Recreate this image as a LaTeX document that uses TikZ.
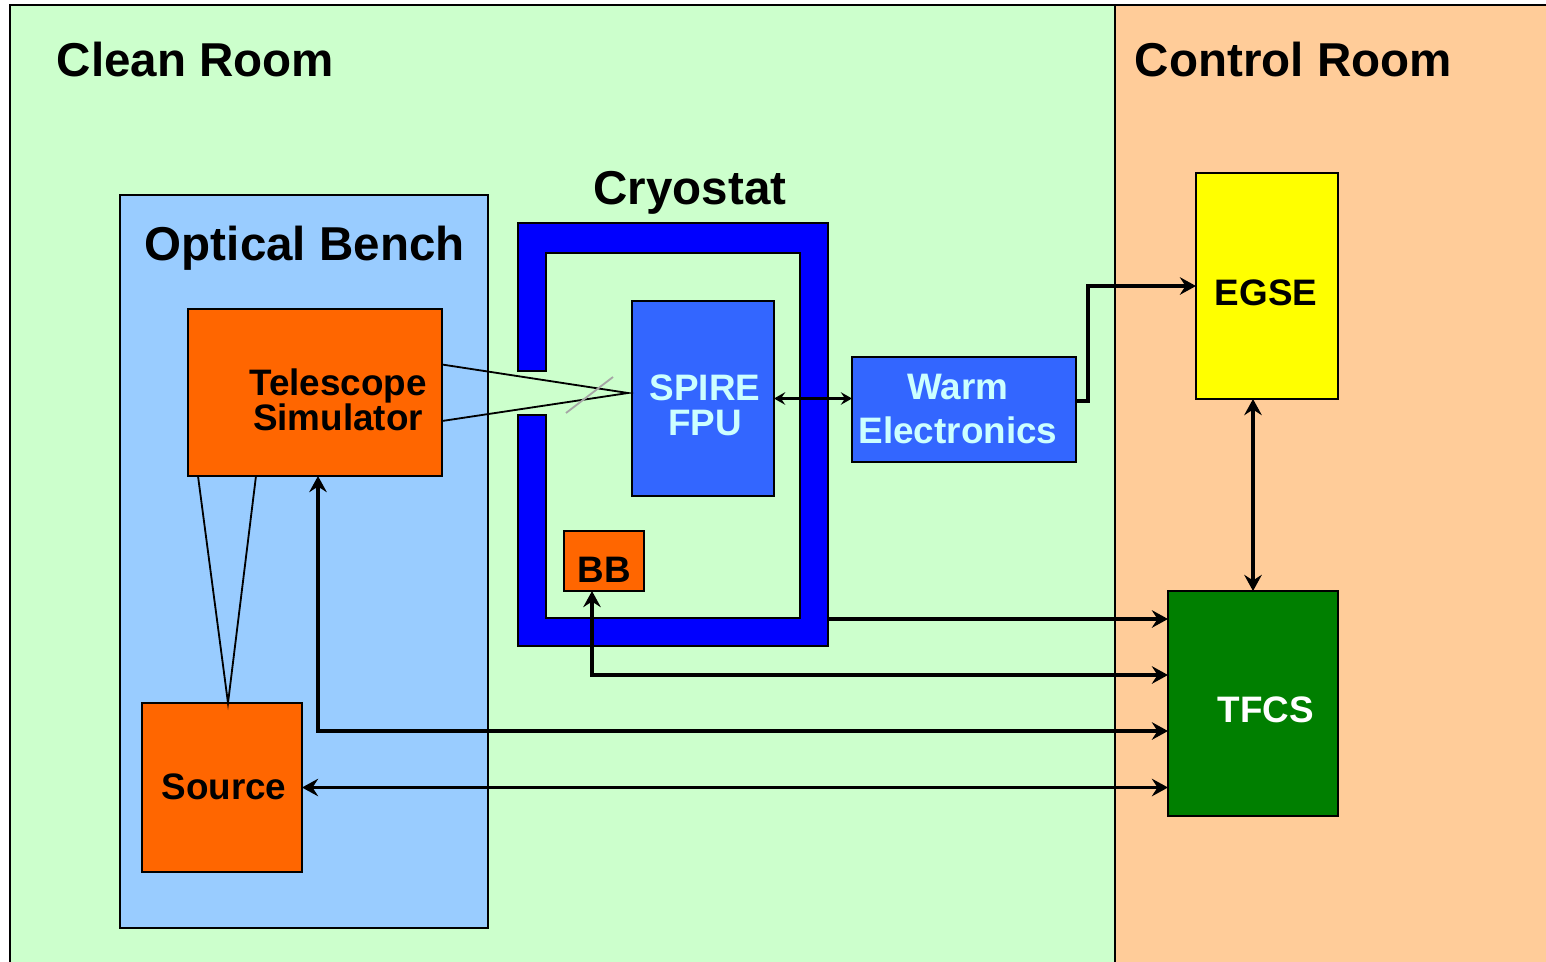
\documentclass[tikz,border=0pt]{standalone}
\usepackage{fontspec}
\setmainfont{Liberation Sans}
\usetikzlibrary{arrows.meta,calc}

\definecolor{cleangreen}{HTML}{CCFFCC}
\definecolor{ctrlorange}{HTML}{FFCC99}
\definecolor{benchblue}{HTML}{99CCFF}
\definecolor{orangebox}{HTML}{FF6600}
\definecolor{cryoblue}{HTML}{0000FF}
\definecolor{spireblue}{HTML}{3366FF}
\definecolor{paletext}{HTML}{CCFFFF}
\definecolor{tfcsgreen}{HTML}{007F00}
\definecolor{egseyellow}{HTML}{FFFF00}

\tikzset{
  blk/.style args={#1x#2}{draw=black, line width=1pt, inner sep=0pt, outer sep=0pt,
    minimum width=#1*0.025cm, minimum height=#2*0.025cm},
  title/.style={font=\fontsize{33.8}{38}\selectfont\bfseries},
  lbl/.style={font=\fontsize{26.2}{25}\selectfont\bfseries, align=center, inner sep=0pt},
  beam/.style={line width=1.3pt},
  arr/.style={line width=2.2pt, -{Stealth[length=11.5pt,width=12.5pt,inset=4pt]}},
  darr/.style={line width=2.2pt, {Stealth[length=11.5pt,width=12.5pt,inset=4pt]}-{Stealth[length=11.5pt,width=12.5pt,inset=4pt]}},
}

\begin{document}
\begin{tikzpicture}[x=0.025cm,y=-0.025cm]
\clip (0,0) rectangle (1546,961);
\fill[white] (0,0) rectangle (1546,961);

% rooms
\filldraw[fill=cleangreen, line width=1pt] (10,5) rectangle (1115,990);
\filldraw[fill=ctrlorange, line width=1pt] (1115,5) rectangle (1580,990);
\node[title, anchor=west] (cleanttl) at (52,60) {Clean Room};
\node[title, anchor=west] (ctrlttl) at (1130,60) {Control Room};

% optical bench
\filldraw[fill=benchblue, line width=1pt] (120,195) rectangle (488,928);
\node[title, anchor=west] (benchttl) at (140,248) {Optical Bench};

\node[blk=254x167, fill=orangebox] (tel) at (315,392.5) {};
\node[lbl] (teltxt) at (338,400) {Telescope\\Simulator};
\node[blk=160x169, fill=orangebox] (src) at (222,787.5) {};
\node[lbl] (srctxt) at (224,787) {Source};

% cryostat
\filldraw[fill=cryoblue, draw=black, line width=1pt]
  (518,371) -- (518,223) -- (828,223) -- (828,646) -- (518,646) -- (518,415)
  -- (546,415) -- (546,618) -- (800,618) -- (800,253) -- (546,253) -- (546,371) -- cycle;
\node[title] (cryottl) at (690,193) {Cryostat};
\coordinate (cryo) at (828,619);

\node[blk=142x195, fill=spireblue] (spire) at (703,398.5) {};
\node[lbl, text=paletext] (spiretxt) at (705,405) {SPIRE\\FPU};
\node[blk=80x60, fill=orangebox] (bb) at (604,561) {};
\node[lbl] (bbtxt) at (604,570) {BB};

\node[blk=224x105, fill=spireblue] (warm) at (964,409.5) {};
\node[lbl, text=paletext, font=\fontsize{26.2}{31}\selectfont\bfseries] (warmtxt) at (958,409) {Warm\\Electronics};

% control room boxes
\node[blk=142x226, fill=egseyellow] (egse) at (1267,286) {};
\node[lbl] (egsetxt) at (1266,293) {EGSE};
\node[blk=170x225, fill=tfcsgreen] (tfcs) at (1253,703.5) {};
\node[lbl, text=white] (tfcstxt) at (1266,710) {TFCS};

% beam
\coordinate (focus) at (628,393);
\draw[beam] ($(tel.east)+(0,-28)$) -- (focus) -- ($(tel.east)+(0,28.5)$);
\draw[gray!70, line width=1.3pt] (566,413) -- (613,377);
\draw[beam] ($(tel.south west)+(10,0)$) -- ($(src.north)+(6,0)$) -- ($(tel.south west)+(68,0)$);

% connections
\draw[line width=1.5pt, {Stealth[length=8pt,width=9pt,inset=3pt]}-{Stealth[length=8pt,width=9pt,inset=3pt]}]
  (spire.east) -- (spire.east -| warm.west);
\draw[arr] ($(warm.east)+(0,-8.5)$) -- ++(12,0) |- (egse.west);
\draw[darr] (egse.south -| tfcs.north) -- (tfcs.north);
\draw[arr] (cryo) -- (cryo -| tfcs.west);
\draw[darr] ($(bb.south)+(-12,0)$) |- ($(tfcs.west)+(0,-28.5)$);
\draw[darr] ($(tel.south)+(3,0)$) |- ($(tfcs.west)+(0,27.5)$);
\draw[darr] (src.east) -- (src.east -| tfcs.west);
\end{tikzpicture}
\end{document}
